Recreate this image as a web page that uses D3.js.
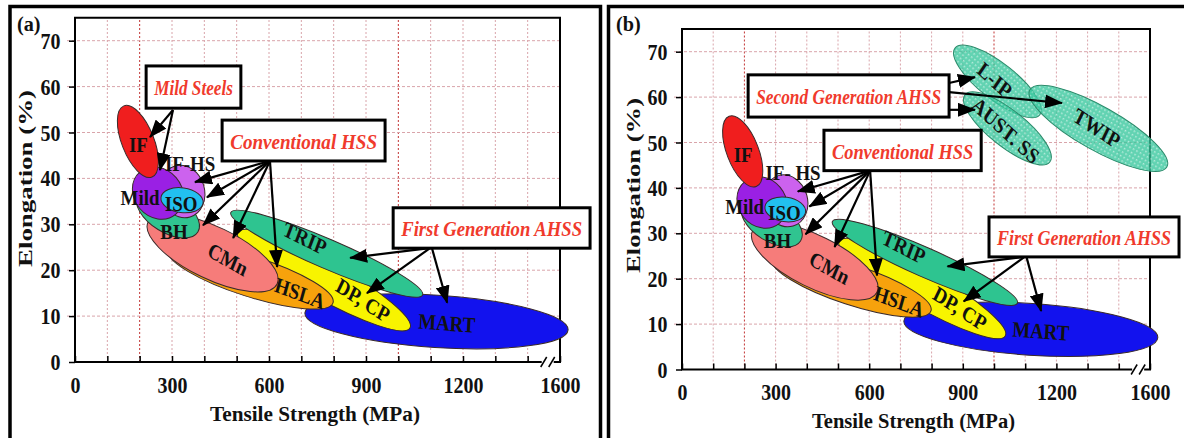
<!DOCTYPE html>
<html>
<head>
<meta charset="utf-8">
<script src="https://cdn.jsdelivr.net/npm/d3@7"></script>
<style>
body { margin: 0; background: #fff; }
svg { display: block; font-family: "Liberation Serif", "Times New Roman", serif; }
</style>
</head>
<body>
<script>
var W = 1184, H = 438;

// axis ticks
var xTickValues = [ 0, 300, 600, 900, 1200, 1500 ];
var xTickText = [ '0', '300', '600', '900', '1200', '1600' ];
var yTickValues = [ 0, 10, 20, 30, 40, 50, 60, 70 ];

// steel classes, drawn in this order (bottom first)
// each one: ends of the long axis [MPa, %] and half width in % elongation
var steelNames = [ 'MART', 'DP, CP', 'TRIP', 'HSLA', 'CMn', 'BH', 'IF-HS', 'Mild', 'IF', 'ISO' ];
var steelFrom = [ [ 711, 10.7 ], [ 504, 28.3 ], [ 482, 32.6 ], [ 288, 24.4 ], [ 226, 30.5 ], [ 195, 36.4 ], [ 309, 42.7 ], [ 201, 41.4 ], [ 151, 55.8 ], [ 266, 35.9 ] ];
var steelTo = [ [ 1525, 7.0 ], [ 1036, 7.4 ], [ 1075, 14.6 ], [ 798, 12.9 ], [ 625, 17.0 ], [ 380, 28.3 ], [ 356, 31.6 ], [ 312, 32.2 ], [ 238, 40.3 ], [ 396, 34.6 ] ];
var steelWidth = [ 5.7, 4.1, 3.2, 4.4, 5.7, 4.1, 4.8, 5.2, 3.5, 2.7 ];
var steelLabelAt = [ [ 1150, 8.5 ], [ 891, 13.5 ], [ 711, 27.0 ], [ 696, 15.0 ], [ 473, 22.4 ], [ 306, 28.5 ], [ 356, 43.4 ], [ 201, 35.9 ], [ 196, 47.4 ], [ 328, 34.6 ] ];
var steelColors = [ '#1212ee', '#f8f400', '#2ec490', '#f7a20c', '#f67c7a', '#30c490', '#cc62ee', '#9a20e4', '#f01e1e', '#22c0f0' ];
var tiltedLabels = [ 'MART', 'DP, CP', 'TRIP', 'HSLA', 'CMn', 'L-IP', 'AUST. SS', 'TWIP' ];

// second generation AHSS, panel (b) only
var secondNames = [ 'L-IP', 'AUST. SS', 'TWIP' ];
var secondFrom = [ [ 875, 70.8 ], [ 907, 60.5 ], [ 1115, 61.6 ] ];
var secondTo = [ [ 1147, 56.1 ], [ 1179, 45.7 ], [ 1554, 44.6 ] ];
var secondWidth = [ 4.0, 4.0, 4.8 ];
var secondLabelAt = [ [ 1003, 63.8 ], [ 1038, 52.7 ], [ 1330, 53.2 ] ];

// callout boxes: corners in [MPa, %]
var boxText = [ 'Mild Steels', 'Conventional HSS', 'First Generation AHSS', 'Second Generation AHSS' ];
var boxFrom = [ [ 220, 64.5 ], [ 455, 52.7 ], [ 984, 33.6 ], [ 212, 64.9 ] ];
var boxTo = [ [ 513, 55.3 ], [ 959, 43.8 ], [ 1593, 24.8 ], [ 856, 55.6 ] ];
var boxPanels = [ 'a', 'ab', 'ab', 'b' ];

// arrows from the boxes to the classes
var arrowFrom = [ [ 303, 54.9 ], [ 303, 54.9 ], [ 603, 43.8 ], [ 603, 43.8 ], [ 603, 43.8 ], [ 603, 43.8 ], [ 603, 43.8 ],
	[ 1096, 24.8 ], [ 1098, 24.8 ], [ 1104, 24.8 ], [ 856, 63.1 ], [ 856, 61.1 ], [ 856, 57.2 ] ];
var arrowTo = [ [ 232, 49.0 ], [ 263, 41.8 ], [ 371, 39.2 ], [ 408, 35.9 ], [ 396, 29.8 ], [ 489, 27.0 ], [ 625, 20.7 ],
	[ 851, 22.7 ], [ 903, 15.0 ], [ 1151, 12.9 ], [ 939, 64.4 ], [ 1218, 58.7 ], [ 939, 57.2 ] ];
var arrowPanels = [ 'a', 'a', 'ab', 'ab', 'ab', 'ab', 'ab', 'ab', 'ab', 'ab', 'b', 'b', 'b' ];

var squeeze = 0.86;

var svg = d3.select( 'body' ).append( 'svg' )
	.attr( 'width', W )
	.attr( 'height', H );

var defs = svg.append( 'defs' );

defs.append( 'marker' ).attr( 'id', 'head' )
	.attr( 'markerUnits', 'userSpaceOnUse' )
	.attr( 'markerWidth', 18 ).attr( 'markerHeight', 14 )
	.attr( 'refX', 17 ).attr( 'refY', 7 )
	.attr( 'orient', 'auto' )
	.append( 'path' ).attr( 'd', 'M0,0L18,7L0,14Z' ).attr( 'fill', '#000' );

var pat = defs.append( 'pattern' ).attr( 'id', 'dots' )
	.attr( 'patternUnits', 'userSpaceOnUse' )
	.attr( 'width', 4 ).attr( 'height', 4 );
pat.append( 'rect' ).attr( 'width', 4 ).attr( 'height', 4 ).attr( 'fill', '#36c69c' );
pat.append( 'rect' ).attr( 'width', 1.5 ).attr( 'height', 1.5 ).attr( 'fill', '#a8e8d4' );

// outer frames of the two panels
svg.append( 'rect' ).attr( 'x', 10 ).attr( 'y', 6.5 ).attr( 'width', 590.5 ).attr( 'height', H )
	.attr( 'fill', 'none' ).attr( 'stroke', '#000' ).attr( 'stroke-width', 3.5 );
svg.append( 'rect' ).attr( 'x', 608.5 ).attr( 'y', 6.5 ).attr( 'width', 600 ).attr( 'height', H )
	.attr( 'fill', 'none' ).attr( 'stroke', '#000' ).attr( 'stroke-width', 3.5 );

var ellipseGeom = function ( x, y, p0, p1, w ) {
	var x1 = x( p0[0] ), y1 = y( p0[1] ), x2 = x( p1[0] ), y2 = y( p1[1] );
	return {
		cx: ( x1 + x2 ) / 2,
		cy: ( y1 + y2 ) / 2,
		rx: Math.hypot( x2 - x1, y2 - y1 ) / 2,
		ry: y( 0 ) - y( w ),
		ang: Math.atan2( y2 - y1, x2 - x1 ) * 180 / Math.PI
	};
};

var putLabel = function ( g, px, py, txt, ang ) {
	g.append( 'text' )
		.attr( 'transform', 'translate(' + px + ',' + py + ') scale(' + squeeze + ',1) rotate(' + ang + ')' )
		.attr( 'text-anchor', 'middle' )
		.attr( 'dy', '0.35em' )
		.attr( 'font-size', 22 )
		.attr( 'font-weight', 'bold' )
		.attr( 'fill', '#111' )
		.text( txt );
};

var drawPanel = function ( p ) {
	var x = d3.scaleLinear().domain( [ 0, 1500 ] ).range( p.xr );
	var y = d3.scaleLinear().domain( [ 0, 75 ] ).range( p.yr );
	var g = svg.append( 'g' );

	// grid
	g.selectAll( '.vgrid' ).data( d3.range( 100, 1500, 100 ) ).enter().append( 'line' )
		.attr( 'x1', function ( d ) { return x( d ); } )
		.attr( 'x2', function ( d ) { return x( d ); } )
		.attr( 'y1', y( 0 ) ).attr( 'y2', y( 75 ) )
		.attr( 'stroke', function ( d ) { return d === 200 || d === 1000 ? '#c23434' : '#d9a4aa'; } )
		.attr( 'stroke-width', 1 )
		.attr( 'stroke-dasharray', '2,2' );
	g.selectAll( '.hgrid' ).data( d3.range( 10, 71, 10 ) ).enter().append( 'line' )
		.attr( 'x1', x( 0 ) - 8 ).attr( 'x2', x( 1500 ) )
		.attr( 'y1', function ( d ) { return y( d ); } )
		.attr( 'y2', function ( d ) { return y( d ); } )
		.attr( 'stroke', '#d9a4aa' )
		.attr( 'stroke-width', 1 )
		.attr( 'stroke-dasharray', '3,2' );

	// axes
	var xa = d3.axisBottom( x )
		.tickValues( d3.range( 0, 1501, 100 ) )
		.tickSizeInner( -6 ).tickSizeOuter( 0 ).tickPadding( 14 )
		.tickFormat( function ( d ) {
			var i = xTickValues.indexOf( d );
			return i < 0 ? '' : xTickText[i];
		} );
	var ya = d3.axisLeft( y )
		.tickValues( yTickValues )
		.tickSizeInner( 6 ).tickSizeOuter( 0 ).tickPadding( 11 );

	var gx = g.append( 'g' ).attr( 'transform', 'translate(0,' + y( 0 ) + ')' ).call( xa );
	var gy = g.append( 'g' ).attr( 'transform', 'translate(' + x( 0 ) + ',0)' ).call( ya );
	[ gx, gy ].forEach( function ( ax ) {
		ax.select( '.domain' ).remove();
		ax.selectAll( 'line' ).attr( 'stroke', '#000' ).attr( 'stroke-width', 1.5 );
		ax.selectAll( 'text' )
			.attr( 'font-family', '"Liberation Serif", serif' )
			.attr( 'font-size', 23.5 )
			.attr( 'font-weight', 'bold' )
			.attr( 'fill', '#111' )
			.attr( 'transform', 'scale(0.85,1)' );
	} );

	// plot frame
	g.append( 'rect' )
		.attr( 'x', x( 0 ) ).attr( 'y', y( 75 ) )
		.attr( 'width', x( 1500 ) - x( 0 ) ).attr( 'height', y( 0 ) - y( 75 ) )
		.attr( 'fill', 'none' ).attr( 'stroke', '#000' ).attr( 'stroke-width', 2 );

	// axis break
	var bx = x( 1462 );
	g.append( 'rect' ).attr( 'x', bx - 6 ).attr( 'y', y( 0 ) - 2 ).attr( 'width', 12 ).attr( 'height', 4 ).attr( 'fill', '#fff' );
	[ -4, 4 ].forEach( function ( o ) {
		g.append( 'line' )
			.attr( 'x1', bx + o - 3 ).attr( 'y1', y( 0 ) + 5 )
			.attr( 'x2', bx + o + 3 ).attr( 'y2', y( 0 ) - 5 )
			.attr( 'stroke', '#000' ).attr( 'stroke-width', 1.5 );
	} );

	// steel classes
	steelNames.forEach( function ( name, i ) {
		var e = ellipseGeom( x, y, steelFrom[i], steelTo[i], steelWidth[i] );
		g.append( 'ellipse' )
			.attr( 'transform', 'translate(' + e.cx + ',' + e.cy + ') rotate(' + e.ang + ')' )
			.attr( 'rx', e.rx ).attr( 'ry', e.ry )
			.attr( 'fill', steelColors[i] )
			.attr( 'stroke', '#3a2a2a' ).attr( 'stroke-width', 1 );
	} );
	steelNames.forEach( function ( name, i ) {
		var e = ellipseGeom( x, y, steelFrom[i], steelTo[i], steelWidth[i] );
		var txt = name;
		if ( p.tag === 'b' && name === 'IF-HS' ) txt = 'IF- HS';
		putLabel( g, x( steelLabelAt[i][0] ), y( steelLabelAt[i][1] ), txt,
			tiltedLabels.indexOf( name ) >= 0 ? e.ang : 0 );
	} );

	if ( p.tag === 'b' ) {
		secondNames.forEach( function ( name, i ) {
			var e = ellipseGeom( x, y, secondFrom[i], secondTo[i], secondWidth[i] );
			g.append( 'ellipse' )
				.attr( 'transform', 'translate(' + e.cx + ',' + e.cy + ') rotate(' + e.ang + ')' )
				.attr( 'rx', e.rx ).attr( 'ry', e.ry )
				.attr( 'fill', 'url(#dots)' ).attr( 'fill-opacity', 0.78 )
				.attr( 'stroke', '#2a8a6a' ).attr( 'stroke-width', 1 );
		} );
		secondNames.forEach( function ( name, i ) {
			var e = ellipseGeom( x, y, secondFrom[i], secondTo[i], secondWidth[i] );
			putLabel( g, x( secondLabelAt[i][0] ), y( secondLabelAt[i][1] ), name, e.ang );
		} );
	}

	// arrows
	arrowFrom.forEach( function ( a, i ) {
		if ( arrowPanels[i].indexOf( p.tag ) < 0 ) return;
		g.append( 'line' )
			.attr( 'x1', x( a[0] ) ).attr( 'y1', y( a[1] ) )
			.attr( 'x2', x( arrowTo[i][0] ) ).attr( 'y2', y( arrowTo[i][1] ) )
			.attr( 'stroke', '#000' ).attr( 'stroke-width', 2.2 )
			.attr( 'marker-end', 'url(#head)' );
	} );

	// callout boxes
	boxText.forEach( function ( t, i ) {
		if ( boxPanels[i].indexOf( p.tag ) < 0 ) return;
		var x0 = x( boxFrom[i][0] ), y0 = y( boxFrom[i][1] );
		var x1 = x( boxTo[i][0] ), y1 = y( boxTo[i][1] );
		g.append( 'rect' )
			.attr( 'x', x0 ).attr( 'y', y0 )
			.attr( 'width', x1 - x0 ).attr( 'height', y1 - y0 )
			.attr( 'fill', '#fff' ).attr( 'stroke', '#000' ).attr( 'stroke-width', 3 );
		var txt = g.append( 'text' )
			.attr( 'text-anchor', 'middle' )
			.attr( 'dy', '0.38em' )
			.attr( 'font-size', 22 )
			.attr( 'font-weight', 'bold' )
			.attr( 'font-style', 'italic' )
			.attr( 'fill', '#f03a2c' )
			.text( t );
		var s = ( x1 - x0 - 16 ) / txt.node().getComputedTextLength();
		txt.attr( 'transform', 'translate(' + ( x0 + x1 ) / 2 + ',' + ( y0 + y1 ) / 2 + ') scale(' + s + ',1)' );
	} );

	// titles
	g.append( 'text' )
		.attr( 'x', p.xTitle[0] ).attr( 'y', p.xTitle[1] )
		.attr( 'text-anchor', 'middle' )
		.attr( 'font-size', 22 ).attr( 'font-weight', 'bold' ).attr( 'fill', '#111' )
		.attr( 'textLength', p.xTitle[2] ).attr( 'lengthAdjust', 'spacingAndGlyphs' )
		.text( 'Tensile Strength (MPa)' );
	g.append( 'text' )
		.attr( 'transform', 'translate(' + p.yTitle[0] + ',' + p.yTitle[1] + ') scale(' + squeeze + ',1) rotate(-90)' )
		.attr( 'text-anchor', 'middle' )
		.attr( 'font-size', 22 ).attr( 'font-weight', 'bold' ).attr( 'fill', '#111' )
		.attr( 'textLength', p.yTitle[2] ).attr( 'lengthAdjust', 'spacingAndGlyphs' )
		.text( 'Elongation (%)' );
	g.append( 'text' )
		.attr( 'transform', 'translate(' + p.tagAt[0] + ',' + p.tagAt[1] + ') scale(0.92,1)' )
		.attr( 'font-size', 22 ).attr( 'font-weight', 'bold' ).attr( 'fill', '#111' )
		.text( '(' + p.tag + ')' );
};

drawPanel( { tag: 'a', xr: [ 75, 560 ], yr: [ 362, 17.75 ], xTitle: [ 315, 421, 210 ], yTitle: [ 32, 178.5, 177 ], tagAt: [ 17, 31 ] } );
drawPanel( { tag: 'b', xr: [ 682, 1150 ], yr: [ 369.5, 29 ], xTitle: [ 913.5, 428, 203 ], yTitle: [ 640, 185.5, 175 ], tagAt: [ 616, 31 ] } );
</script>
</body>
</html>
